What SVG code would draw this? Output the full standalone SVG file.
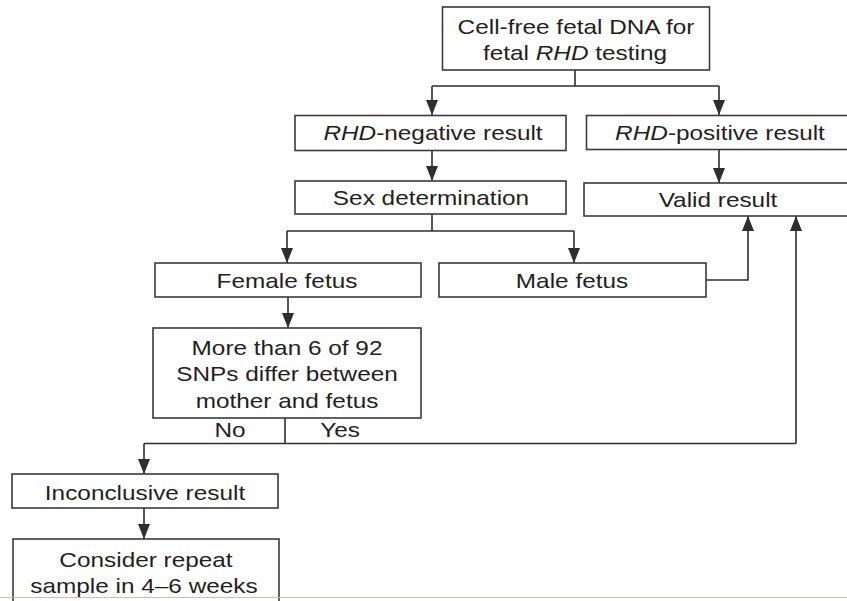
<svg xmlns="http://www.w3.org/2000/svg" width="847" height="601" viewBox="0 0 847 601">
<style>
  .box { fill: #ffffff; stroke: #3a3a3a; stroke-width: 1.6; }
  .lbl { font-family: "Liberation Sans", Arial, sans-serif; font-size: 21px; fill: #231f20; text-anchor: middle; }
  .it { font-style: italic; }
  .conn { fill: none; stroke: #2e2e2e; stroke-width: 1.6; }
  .arr { marker-end: url(#ah); }
</style>
<defs>
  <marker id="ah" markerUnits="userSpaceOnUse" markerWidth="15" markerHeight="12" refX="15" refY="6" orient="auto">
    <path d="M0,0 L15,6 L0,12 z" fill="#2e2e2e"/>
  </marker>
</defs>
<rect x="0" y="0" width="847" height="601" fill="#ffffff"/>

<g id="connectors">
  <path class="conn" d="M575,70 V86 M432,86 H719"/>
  <path class="conn arr" d="M432,86 V115"/>
  <path class="conn arr" d="M719,86 V115"/>
  <path class="conn arr" d="M432,150.5 V181"/>
  <path class="conn arr" d="M719,149.5 V183"/>
  <path class="conn" d="M432,214 V231 M287,231 H574"/>
  <path class="conn arr" d="M287,231 V263"/>
  <path class="conn arr" d="M574,231 V263"/>
  <path class="conn arr" d="M706,280 H748 V216"/>
  <path class="conn arr" d="M288,297 V328"/>
  <path class="conn" d="M285,418 V443.5 M144,443.5 H796"/>
  <path class="conn arr" d="M796,443.5 V216"/>
  <path class="conn arr" d="M144,443.5 V474"/>
  <path class="conn arr" d="M144,508 V539"/>
</g>

<g id="start">
  <rect class="box" x="442.5" y="7" width="267" height="63"/>
  <text class="lbl" transform="translate(576,33.5) scale(1.16,1)">Cell-free fetal DNA for</text>
  <text class="lbl" transform="translate(575,59.5) scale(1.16,1)">fetal <tspan class="it">RHD</tspan> testing</text>
</g>

<g id="rhd-negative">
  <rect class="box" x="295" y="115.5" width="271" height="35"/>
  <text class="lbl" transform="translate(433,140) scale(1.16,1)"><tspan class="it">RHD</tspan>-negative result</text>
</g>

<g id="rhd-positive">
  <rect class="box" x="586.5" y="115.5" width="270" height="34"/>
  <text class="lbl" transform="translate(720,139.5) scale(1.16,1)"><tspan class="it">RHD</tspan>-positive result</text>
</g>

<g id="sex-determination">
  <rect class="box" x="295" y="181" width="271" height="33"/>
  <text class="lbl" transform="translate(431,205) scale(1.16,1)">Sex determination</text>
</g>

<g id="valid-result">
  <rect class="box" x="584" y="183" width="270" height="33"/>
  <text class="lbl" transform="translate(718,207) scale(1.16,1)">Valid result</text>
</g>

<g id="female-fetus">
  <rect class="box" x="155" y="263" width="266" height="34"/>
  <text class="lbl" transform="translate(287,287.5) scale(1.16,1)">Female fetus</text>
</g>

<g id="male-fetus">
  <rect class="box" x="439" y="263" width="267" height="34"/>
  <text class="lbl" transform="translate(572,287.5) scale(1.16,1)">Male fetus</text>
</g>

<g id="snp-check">
  <rect class="box" x="153" y="328" width="268" height="90"/>
  <text class="lbl" transform="translate(287,354.5) scale(1.16,1)">More than 6 of 92</text>
  <text class="lbl" transform="translate(287,381) scale(1.16,1)">SNPs differ between</text>
  <text class="lbl" transform="translate(287,407.5) scale(1.16,1)">mother and fetus</text>
  <text class="lbl" transform="translate(230,437) scale(1.16,1)">No</text>
  <text class="lbl" transform="translate(340,437) scale(1.16,1)">Yes</text>
</g>

<g id="inconclusive">
  <rect class="box" x="12" y="474" width="266" height="34"/>
  <text class="lbl" transform="translate(145,500) scale(1.16,1)">Inconclusive result</text>
</g>

<g id="repeat-sample">
  <rect class="box" x="13" y="539" width="266" height="80"/>
  <text class="lbl" transform="translate(146,566.5) scale(1.16,1)">Consider repeat</text>
  <text class="lbl" transform="translate(144,593) scale(1.16,1)">sample in 4–6 weeks</text>
</g>

<line x1="0" y1="597.5" x2="847" y2="597.5" stroke="#c9bdb5" stroke-width="1"/>
</svg>
